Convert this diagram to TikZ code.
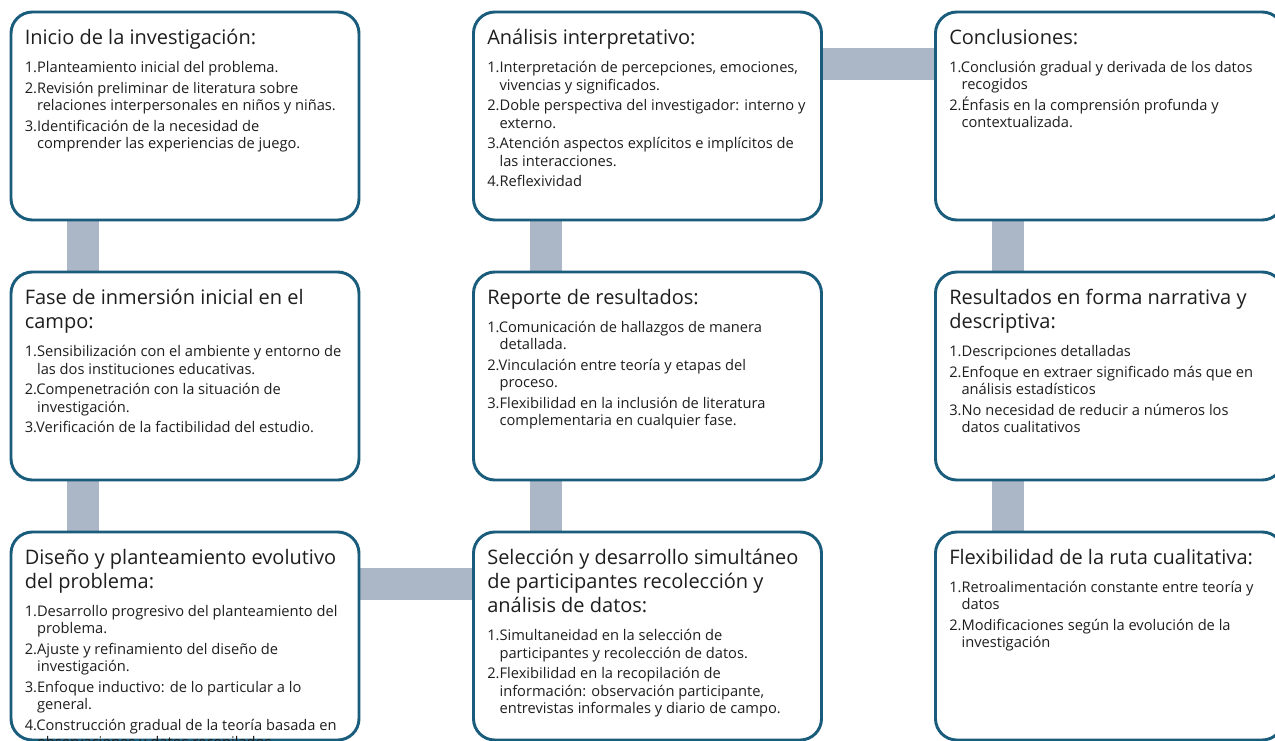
\documentclass[tikz,border=0pt]{standalone}
\usepackage{fontspec}
\setmainfont{Open Sans}
\usetikzlibrary{calc,backgrounds}

\definecolor{stageline}{HTML}{1A5C7C}
\definecolor{stagebar}{HTML}{ABB7C6}
\definecolor{stageink}{HTML}{1E1E1E}

\newlength\stagenum
\newcommand\stagehead[1]{{\let\\\newline\fontsize{15}{18}\selectfont #1\par}\vspace{5.6pt}}
\newcommand\stageitem[2]{\let\\\newline\settowidth\stagenum{#1.}\hangindent\stagenum\hangafter1 #1.#2\par}
\newcommand\stagetext[1]{\parbox[t]{330pt}{\raggedright\parskip2.3pt\fontsize{11}{13.1}\selectfont #1}}

\tikzset{
  stage/.style={draw=stageline, line width=2.2pt, rounded corners=16pt, fill=white,
    minimum width=261pt, minimum height=156pt, anchor=north west, outer sep=0pt, inner sep=0pt},
  stagetxt/.style={text=stageink, anchor=north west, inner sep=0pt},
  bar/.style={draw=stagebar, line width=24pt}
}

\begin{document}
\begin{tikzpicture}[x=0.75pt,y=-0.75pt]
\useasboundingbox (0,0) rectangle (1275,740);
\clip (0,0) rectangle (1275,740);

\node (inicio) at (11,12) [stage] {};
\node (fase) at (11,272) [stage] {};
\node (diseno) at (11,532) [stage] {};
\node (analisis) at (473.5,12) [stage] {};
\node (reporte) at (473.5,272) [stage] {};
\node (seleccion) at (473.5,532) [stage] {};
\node (conclusiones) at (935.5,12) [stage] {};
\node (resultados) at (935.5,272) [stage] {};
\node (flexibilidad) at (935.5,532) [stage] {};

\begin{scope}[on background layer]
\draw[bar]
($(inicio.south west)+(72,0)$) to ($(fase.north west)+(72,0)$)
($(fase.south west)+(72,0)$) to ($(diseno.north west)+(72,0)$)
($(diseno.north east)+(0,52)$) to ($(seleccion.north west)+(0,52)$)
($(seleccion.north west)+(72,0)$) to ($(reporte.south west)+(72,0)$)
($(reporte.north west)+(72,0)$) to ($(analisis.south west)+(72,0)$)
($(analisis.north east)+(0,52)$) to ($(conclusiones.north west)+(0,52)$)
($(conclusiones.south west)+(72,0)$) to ($(resultados.north west)+(72,0)$)
($(resultados.south west)+(72,0)$) to ($(flexibilidad.north west)+(72,0)$);
\end{scope}

\node (inicio-t) at ($(inicio.north west)+(13.5,17)$) [stagetxt] {\stagetext{%
\stagehead{Inicio de la investigación:}
\stageitem{1}{Planteamiento inicial del problema.}
\stageitem{2}{Revisión preliminar de literatura sobre\\relaciones interpersonales en niños y niñas.}
\stageitem{3}{Identificación de la necesidad de\\comprender las experiencias de juego.}}};

\node (fase-t) at ($(fase.north west)+(13.5,17)$) [stagetxt] {\stagetext{%
\stagehead{Fase de inmersión inicial en el\\campo:}
\stageitem{1}{Sensibilización con el ambiente y entorno de\\las dos instituciones educativas.}
\stageitem{2}{Compenetración con la situación de\\investigación.}
\stageitem{3}{Verificación de la factibilidad del estudio.}}};

\node (diseno-t) at ($(diseno.north west)+(13.5,17)$) [stagetxt] {\stagetext{%
\stagehead{Diseño y planteamiento evolutivo\\del problema:}
\stageitem{1}{Desarrollo progresivo del planteamiento del\\problema.}
\stageitem{2}{Ajuste y refinamiento del diseño de\\investigación.}
\stageitem{3}{Enfoque inductivo: de lo particular a lo\\general.}
\stageitem{4}{Construcción gradual de la teoría basada en\\observaciones y datos recopilados.}}};

\node (analisis-t) at ($(analisis.north west)+(13.5,17)$) [stagetxt] {\stagetext{%
\stagehead{Análisis interpretativo:}
\stageitem{1}{Interpretación de percepciones, emociones,\\vivencias y significados.}
\stageitem{2}{Doble perspectiva del investigador: interno y\\externo.}
\stageitem{3}{Atención aspectos explícitos e implícitos de\\las interacciones.}
\stageitem{4}{Reflexividad}}};

\node (reporte-t) at ($(reporte.north west)+(13.5,17)$) [stagetxt] {\stagetext{%
\stagehead{Reporte de resultados:}
\stageitem{1}{Comunicación de hallazgos de manera\\detallada.}
\stageitem{2}{Vinculación entre teoría y etapas del\\proceso.}
\stageitem{3}{Flexibilidad en la inclusión de literatura\\complementaria en cualquier fase.}}};

\node (seleccion-t) at ($(seleccion.north west)+(13.5,17)$) [stagetxt] {\stagetext{%
\stagehead{Selección y desarrollo simultáneo\\de participantes recolección y\\análisis de datos:}
\stageitem{1}{Simultaneidad en la selección de\\participantes y recolección de datos.}
\stageitem{2}{Flexibilidad en la recopilación de\\información: observación participante,\\entrevistas informales y diario de campo.}}};

\node (conclusiones-t) at ($(conclusiones.north west)+(13.5,17)$) [stagetxt] {\stagetext{%
\stagehead{Conclusiones:}
\stageitem{1}{Conclusión gradual y derivada de los datos\\recogidos}
\stageitem{2}{Énfasis en la comprensión profunda y\\contextualizada.}}};

\node (resultados-t) at ($(resultados.north west)+(13.5,17)$) [stagetxt] {\stagetext{%
\stagehead{Resultados en forma narrativa y\\descriptiva:}
\stageitem{1}{Descripciones detalladas}
\stageitem{2}{Enfoque en extraer significado más que en\\análisis estadísticos}
\stageitem{3}{No necesidad de reducir a números los\\datos cualitativos}}};

\node (flexibilidad-t) at ($(flexibilidad.north west)+(13.5,17)$) [stagetxt] {\stagetext{%
\stagehead{Flexibilidad de la ruta cualitativa:}
\stageitem{1}{Retroalimentación constante entre teoría y\\datos}
\stageitem{2}{Modificaciones según la evolución de la\\investigación}}};
\end{tikzpicture}
\end{document}
